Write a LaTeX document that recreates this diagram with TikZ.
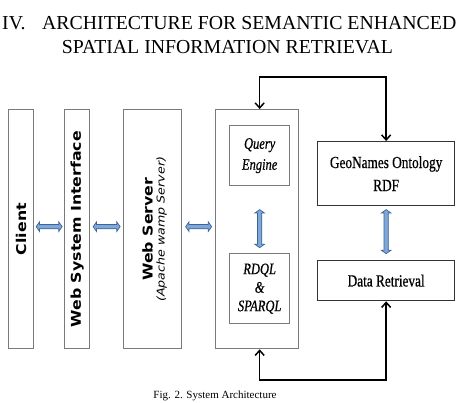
\documentclass[tikz,border=0pt]{standalone}
\usepackage{fontspec}
\setmainfont{Liberation Serif}
\newfontfamily\vfont{DejaVu Sans}
\newfontfamily\condfont[FakeStretch=0.78,FakeBold=0.6]{Liberation Serif}
\usetikzlibrary{shapes.arrows,calc,arrows.meta}
\definecolor{boxgray}{HTML}{7A7A7A}
\definecolor{darkbox}{HTML}{333333}
\definecolor{arrfill}{HTML}{7EA8DA}
\definecolor{arrline}{HTML}{3D6494}
\begin{document}
\begin{tikzpicture}[x=1pt,y=-1pt,
  box/.style={draw=boxgray, line width=1.3pt, anchor=north west, inner sep=0pt},
  dbox/.style={draw=darkbox, line width=1.3pt, anchor=north west, inner sep=0pt},
  vlabel/.style={rotate=90, inner sep=0pt, font=\vfont\bfseries\fontsize{13.5}{15}\selectfont},
  clabel/.style={inner sep=0pt, align=center},
  dbl/.style={double arrow, draw=arrline, fill=arrfill, line width=0.7pt, inner sep=1.8pt,
    double arrow head extend=2.6pt, double arrow tip angle=110, minimum height=#1},
  link/.style={line width=1.5pt, {Straight Barb[length=5pt,width=9pt]}-{Straight Barb[length=5pt,width=9pt]}}
]
\useasboundingbox (0,0) rectangle (457,402);
\clip (0,0) rectangle (457,402);

% title
\node[anchor=base west, inner sep=0pt] (tnum) at (2,29) {\fontsize{19.8}{22}\selectfont IV.};
\node[anchor=base west, inner sep=0pt] (t1) at (42,29) {\fontsize{19.8}{22}\selectfont ARCHITECTURE FOR SEMANTIC ENHANCED};
\node[anchor=base, inner sep=0pt] (t2) at (227.5,53) {\fontsize{19.8}{22}\selectfont SPATIAL INFORMATION RETRIEVAL};

% left column boxes
\node[box, minimum width=25, minimum height=239] (client) at (8,109) {};
\node[box, minimum width=25, minimum height=239] (wsi) at (64,109) {};
\node[box, minimum width=58, minimum height=239] (ws) at (123,109) {};
\node[box, minimum width=83, minimum height=239] (big) at (215,109) {};

\node[vlabel] (clientT) at (client.center) {\scalebox{1.17}[1]{Client}};
\node[vlabel] (wsiT) at (wsi.center) {\scalebox{1.17}[1]{Web System Interface}};
\node[vlabel] (wsT) at ($(ws.center)+(-5,0)$) {\scalebox{1.17}[1]{Web Server}};
\node[rotate=90, inner sep=0pt] (wsS) at ($(ws.center)+(9,0)$) {\scalebox{1.17}[1]{\vfont\itshape\fontsize{10.8}{12}\selectfont (Apache wamp Server)}};

% inner boxes
\node[box, minimum width=60, minimum height=60] (qe) at (229,125) {};
\node[box, minimum width=60, minimum height=70] (rq) at (229,253) {};
\node[clabel, font=\condfont\itshape\fontsize{16}{21}\selectfont] (qeT) at (qe.center) {Query\\Engine};
\node[clabel, font=\condfont\itshape\fontsize{16}{18.5}\selectfont] (rqT) at (rq.center) {RDQL\\\&\\SPARQL};

% right boxes
\node[dbox, minimum width=137, minimum height=64] (geo) at (317,141) {};
\node[dbox, minimum width=137, minimum height=40] (dr) at (317,260) {};
\node[clabel, font=\condfont\fontsize{17}{23}\selectfont] (geoT) at (geo.center) {GeoNames Ontology\\RDF};
\node[clabel, font=\condfont\fontsize{17}{23}\selectfont] (drT) at (dr.center) {Data Retrieval};

% double arrows
\node[dbl=26] (a1) at ($(client.east)!0.5!(wsi.west)+(0,-2.5)$) {};
\node[dbl=27] (a2) at ($(wsi.east)!0.5!(ws.west)+(0,-2.5)$) {};
\node[dbl=26] (a3) at ($(ws.east)!0.5!(big.west)+(0,-2.5)$) {};
\node[dbl=38, rotate=90] (a4) at ($(qe.south)!0.5!(rq.north)+(0,9)$) {};
\node[dbl=44, rotate=90] (a5) at ($(geo.south)!0.5!(dr.north)+(0,-1.5)$) {};

% loop connectors
\coordinate (topy) at (0,77);
\coordinate (boty) at (0,380);
\draw[link] (qe.north |- big.north) -- (qe.north |- topy) -| (geo.north);
\draw[link] (dr.south) -- (dr.south |- boty) -| (qe.south |- big.south);

% caption
\node[anchor=south, inner sep=0pt] (cap) at (215,401) {\fontsize{11}{12}\selectfont Fig. 2. System Architecture};
\end{tikzpicture}
\end{document}
